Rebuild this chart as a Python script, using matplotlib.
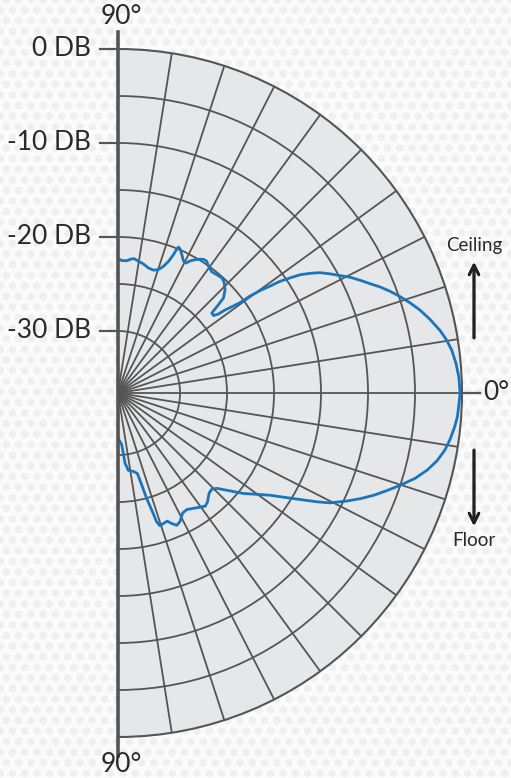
import numpy as np
import matplotlib
matplotlib.use("Agg")
import matplotlib.pyplot as plt
from matplotlib.collections import RegularPolyCollection
from matplotlib.lines import Line2D

# Polar response: angle (deg, + is toward the ceiling) and level (dB)
upper_deg = [90, 88.4, 86.2, 84.6, 83.2, 81.3, 78.9, 76.4, 74.0, 71.95,
             70.3, 69.0, 68.2, 67.8, 67.5, 66.7, 65.2, 63.7, 62.4, 61.4,
             59.9, 58.5, 57.3, 56.1, 54.6, 52.3, 50.1, 47.9, 46.1, 43.9,
             42.0, 41.3, 40.7, 40.4, 39.0, 38.2, 37.8, 37.0, 36.5, 36.3,
             35.8, 35.1, 34.6, 33.8, 33.0, 31.9, 30.8, 29.3, 27.9, 26.5,
             25.0, 23.5, 22.0, 20.5, 18.9, 17.2, 15.4, 13.3, 11.0, 9.2,
             7.3, 5.0, 2.7, 0]
upper_db = [-22.3, -22.5, -22.5, -22.3, -22.2, -22.4, -22.6, -22.9, -23.0, -22.8,
            -22.3, -21.6, -20.8, -20.05, -19.8, -19.9, -20.4, -20.9, -21.0, -20.6,
            -20.2, -19.9, -19.7, -19.7, -20.0, -20.3, -20.2, -20.1, -20.3, -20.8,
            -21.5, -22.4, -23.2, -23.5, -23.5, -23.0, -22.2, -21.2, -20.4, -19.2,
            -18.0, -16.8, -15.7, -14.6, -13.5, -12.5, -11.6, -10.7, -9.9, -9.0,
            -8.2, -7.4, -6.5, -5.7, -4.9, -4.1, -3.3, -2.5, -1.7, -1.2,
            -0.8, -0.5, -0.3, -0.2]
lower_deg = [-1.7, -4.0, -5.7, -7.8, -9.9, -12.0, -14.0, -16.0, -18.1, -20.0,
             -21.8, -23.6, -25.3, -27.4, -28.7, -30.7, -32.2, -33.9, -36.1, -38.7,
             -41.2, -44.0, -45.8, -47.7, -50.6, -52.4, -55.6, -59.4, -61.7, -64.3,
             -66.1, -67.7, -69.0, -70.8, -72.5, -73.3, -73.9, -74.8, -75.6, -76.5,
             -78.9, -82.4, -84.3, -85.0, -85.9, -90]
lower_db = [-0.3, -0.4, -0.6, -0.9, -1.3, -1.9, -2.7, -3.7, -5.0, -6.2,
            -7.3, -8.5, -9.7, -11.2, -12.5, -14.5, -15.8, -17.1, -18.3, -19.5,
            -20.8, -22.0, -22.3, -22.2, -21.6, -21.4, -21.8, -22.2, -22.1, -21.4,
            -21.2, -21.6, -22.0, -21.9, -21.8, -22.3, -23.6, -25.0, -26.6, -27.8,
            -28.1, -28.3, -29.1, -30.2, -31.1, -31.8]

db_labels = [0, -10, -20, -30]
db_rings = [-30, -25, -20, -15, -10, -5]
spoke_deg = np.arange(-90, 91, 9)
r_floor = -36.6

W, H = 511, 778
fig = plt.figure(figsize=(W / 100, H / 100), dpi=100)
fig.patch.set_facecolor("#fbfbfb")

# hexagon texture behind everything
bg = fig.add_axes([0, 0, 1, 1], zorder=-5)
bg.set_xlim(0, W)
bg.set_ylim(0, H)
bg.axis("off")
hx, hy = np.meshgrid(np.arange(-6, W + 12, 12.3), np.arange(-6, H + 12, 10.6))
hx = hx + (np.arange(hx.shape[0])[:, None] % 2) * 6.15
hexes = RegularPolyCollection(6, sizes=[28], offsets=np.c_[hx.ravel(), hy.ravel()],
                              offset_transform=bg.transData,
                              facecolor="#efefef", edgecolor="none")
bg.add_collection(hexes)

# half-disc wedge sits centred in a square box of side 2R
cx, cy, R = 118, 393, 344
S = 2 * R
ax = fig.add_axes([(cx - S / 4) / W, (H - cy - R) / H, S / W, S / H],
                  projection="polar")
ax.set_thetamin(-90)
ax.set_thetamax(90)
ax.set_rlim(r_floor, 0)
ax.set_facecolor("#e6e7e9")

grid_c = "#555555"
ax.set_thetagrids(spoke_deg, labels=[""] * len(spoke_deg))
ax.set_rgrids(db_rings, labels=[""] * len(db_rings))
ax.grid(True, color=grid_c, linewidth=1.3)
ax.spines["polar"].set_color(grid_c)
ax.spines["polar"].set_linewidth(1.5)
for s in ("start", "end"):
    ax.spines[s].set_visible(False)
ax.tick_params(length=0)

theta = np.radians(upper_deg + lower_deg)
ax.plot(theta, upper_db + lower_db, color="#1a75bc", linewidth=2.0,
        solid_joinstyle="round", solid_capstyle="round", zorder=5)

# vertical axis and dB ticks
fig.add_artist(Line2D([cx / W, cx / W], [(H - 32) / H, (H - 756) / H],
                      color=grid_c, linewidth=2.6))
font = dict(family=["Lato", "DejaVu Sans"], color="#2a2a2a")
for d in db_labels:
    y = cy - R * (d - r_floor) / (0 - r_floor)
    fig.add_artist(Line2D([100 / W, cx / W], [(H - y) / H] * 2,
                          color=grid_c, linewidth=1.6))
    fig.text(91 / W, (H - y) / H, f"{d} DB", ha="right", va="center",
             fontsize=19, **font)

fig.add_artist(Line2D([(cx + R) / W, 480 / W], [(H - cy) / H] * 2,
                      color=grid_c, linewidth=1.6))
fig.text(483 / W, (H - cy) / H, "0°", ha="left", va="center", fontsize=19, **font)
fig.text(121 / W, (H - 17) / H, "90°", ha="center", va="center", fontsize=19, **font)
fig.text(121 / W, (H - 765) / H, "90°", ha="center", va="center", fontsize=19, **font)

# ceiling / floor arrows
arrow = dict(arrowstyle="->,head_length=0.7,head_width=0.35", color="#222222",
             linewidth=2.0, shrinkA=0, shrinkB=0)
fig.add_artist(plt.annotate("", xy=(474 / W, (H - 262) / H), xycoords="figure fraction",
                            xytext=(474 / W, (H - 338) / H), arrowprops=arrow))
fig.add_artist(plt.annotate("", xy=(474 / W, (H - 526) / H), xycoords="figure fraction",
                            xytext=(474 / W, (H - 450) / H), arrowprops=arrow))
fig.text(474 / W, (H - 245) / H, "Ceiling", ha="center", va="center", fontsize=13.5, **font)
fig.text(474 / W, (H - 541) / H, "Floor", ha="center", va="center", fontsize=13.5, **font)

fig.savefig("out.png", dpi=100, facecolor=fig.get_facecolor())
